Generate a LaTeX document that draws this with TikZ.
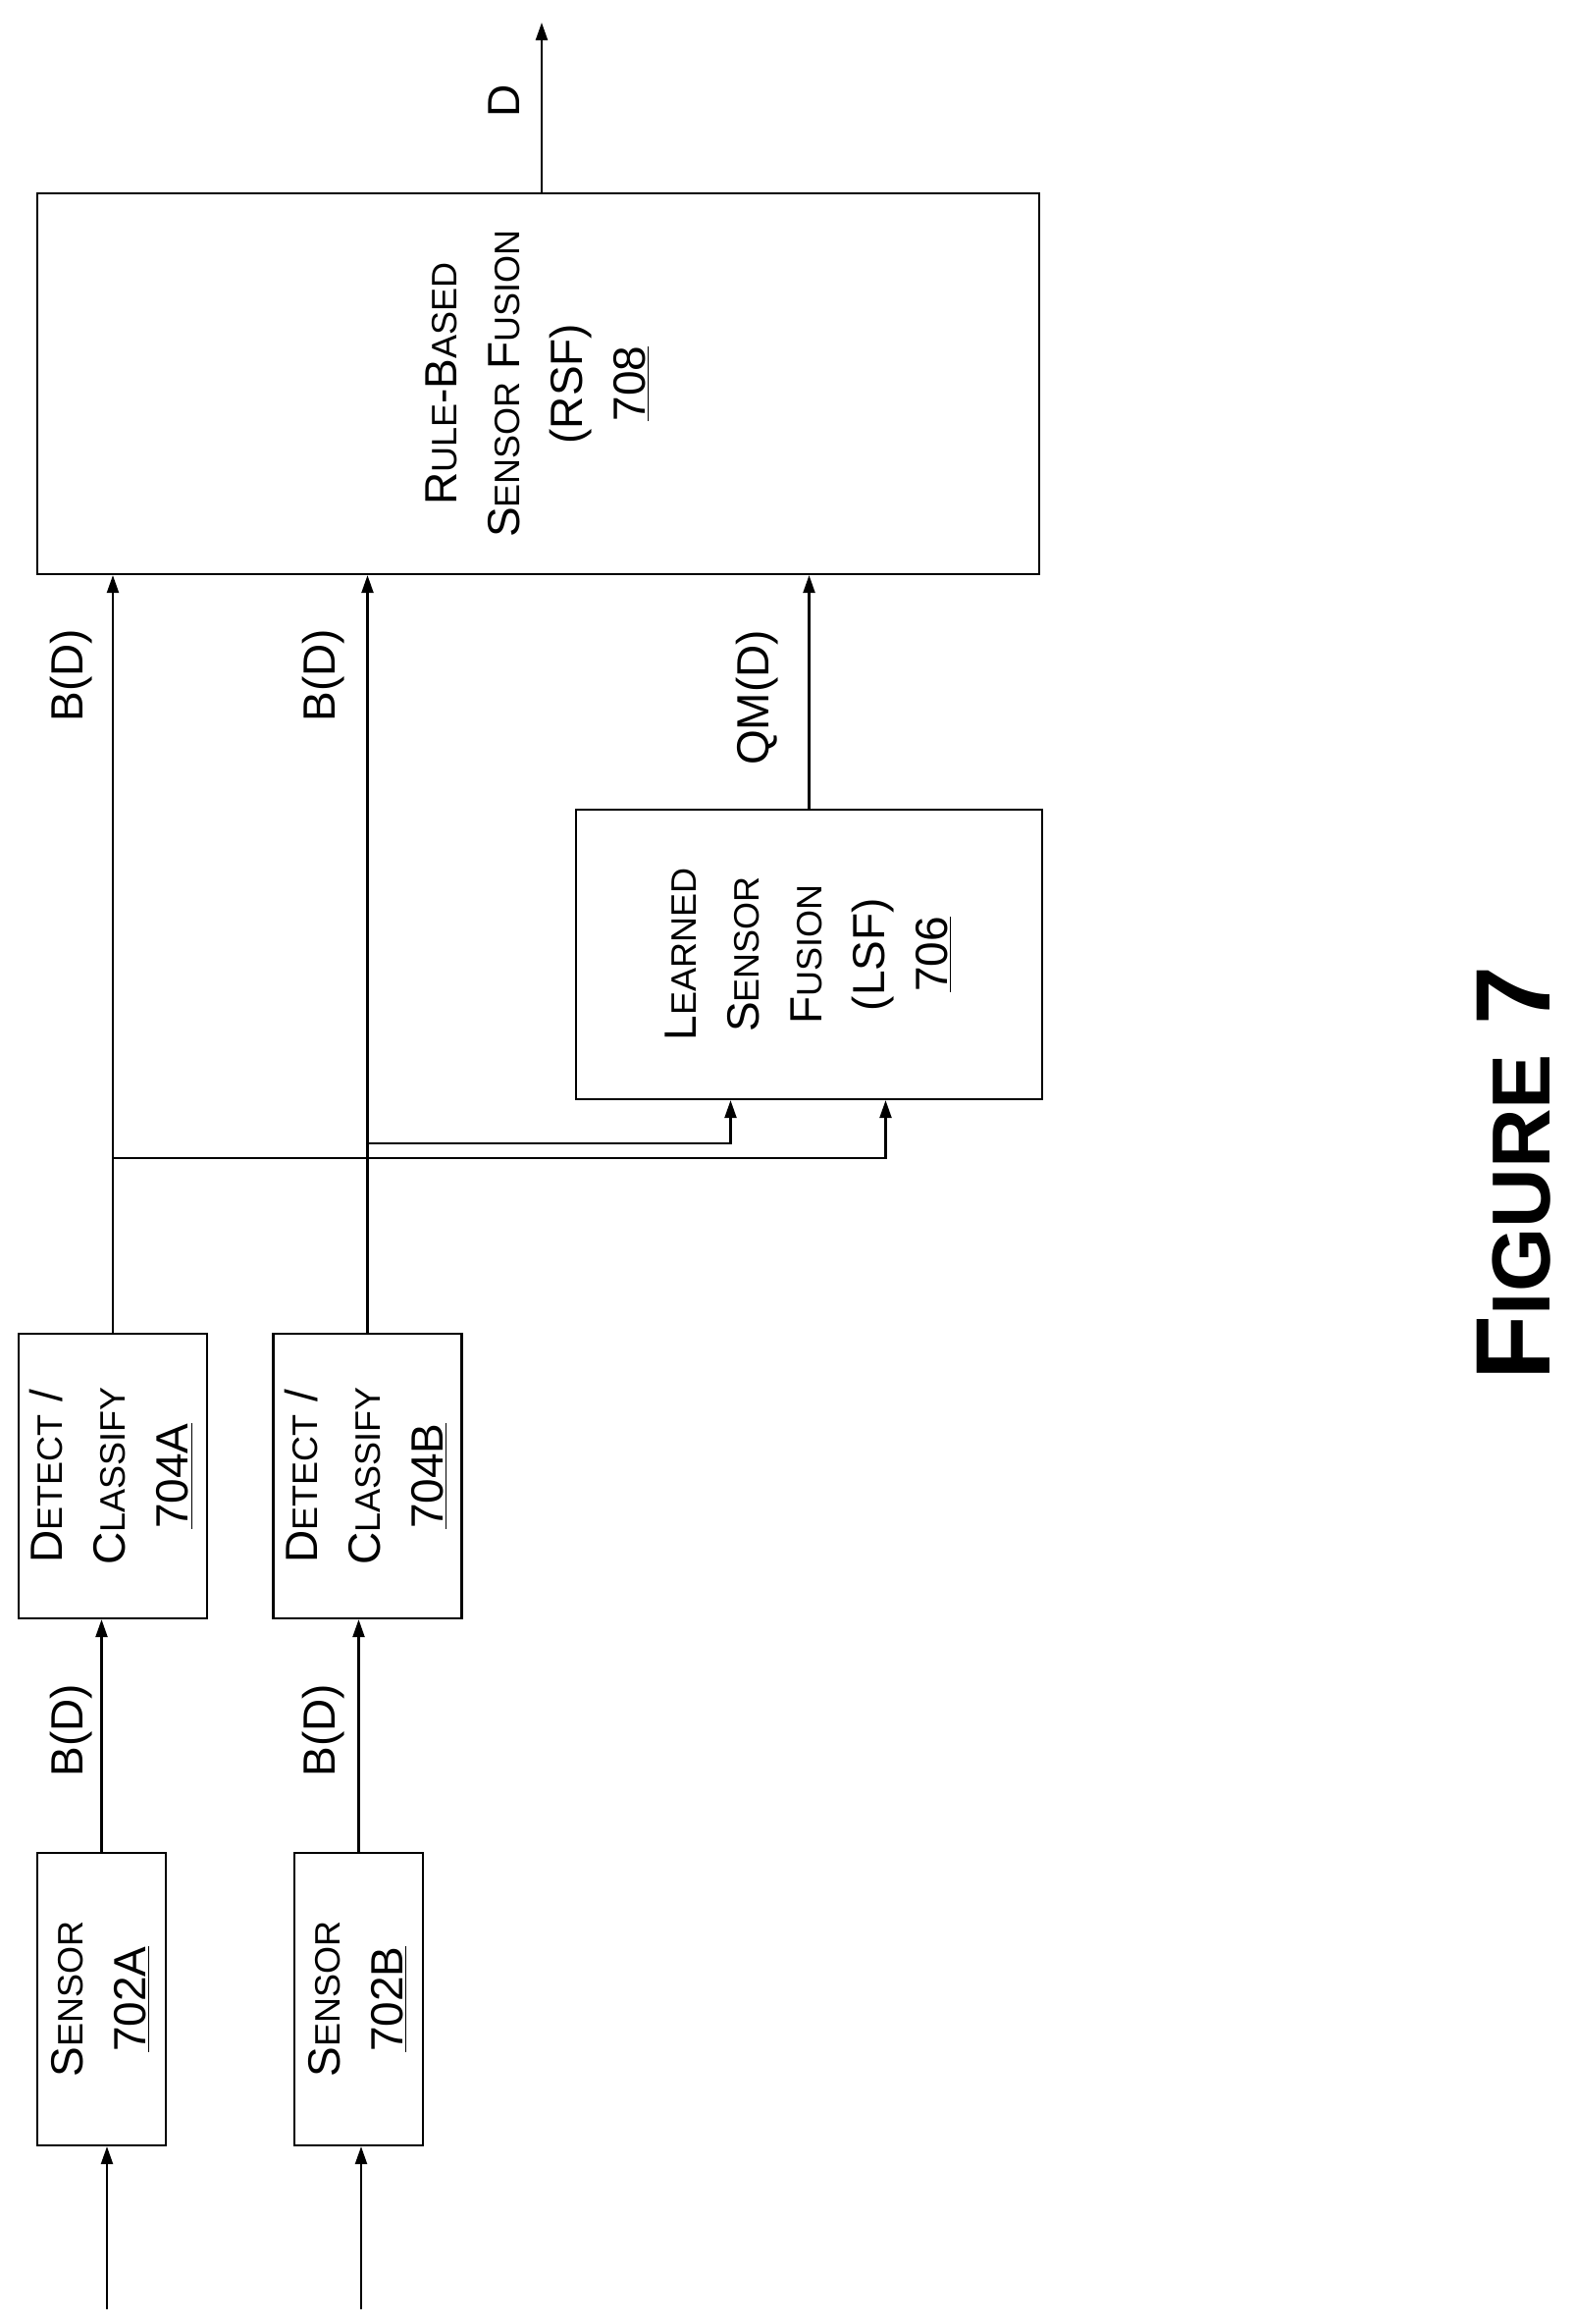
\documentclass[tikz,border=0pt]{standalone}
\usepackage{fontspec}
\setmainfont{Liberation Sans}
\usetikzlibrary{arrows.meta, positioning}
\newcommand{\sm}[1]{{\fontsize{18}{18}\selectfont #1}}
\newcommand{\vtext}[1]{\rotatebox{90}{\begin{tabular}{@{}c@{}}#1\end{tabular}}}

\begin{document}
\begin{tikzpicture}[
    x=0.5pt, y=-0.5pt,
    ->,
    >={Triangle[length=9pt,width=6pt]},
    line width=1.1pt,
    every node/.style={font=\fontsize{23}{32}\selectfont},
    block/.style={draw, line width=1.1pt, inner sep=0pt, align=center},
    lbl/.style={rotate=90}
  ]
  \useasboundingbox (0,0) rectangle (1604,2368);

  % --- blocks ---
  \node[block, minimum width=65.5pt, minimum height=149pt] (sA) at (103.5,2037)
    {\vtext{S\sm{ENSOR}\\\underline{702A}}};
  \node[block, minimum width=65.5pt, minimum height=149pt] (sB) at (365.5,2037)
    {\vtext{S\sm{ENSOR}\\\underline{702B}}};
  \node[block, minimum width=94pt, minimum height=145pt] (dA) at (115,1504)
    {\vtext{D\sm{ETECT} /\\C\sm{LASSIFY}\\\underline{704A}}};
  \node[block, minimum width=94pt, minimum height=145pt] (dB) at (374.5,1504)
    {\vtext{D\sm{ETECT} /\\C\sm{LASSIFY}\\\underline{704B}}};
  \node[block, minimum width=237.5pt, minimum height=147.5pt] (lsf) at (824.5,972.5)
    {\vtext{L\sm{EARNED}\\S\sm{ENSOR}\\F\sm{USION}\\(LSF)\\\underline{706}}};
  \node[block, minimum width=510.5pt, minimum height=194pt] (rsf) at (548.5,391)
    {\vtext{R\sm{ULE}-B\sm{ASED}\\S\sm{ENSOR} F\sm{USION}\\(RSF)\\\underline{708}}};

  % --- free ends and junctions ---
  \coordinate (inA) at (109,2353);
  \coordinate (inB) at (368,2353);
  \coordinate (out) at (552,23);
  \coordinate (jA) at (115,1180);
  \coordinate (jB) at (374.5,1165);
  \coordinate (lA) at ([xshift=39pt]lsf.south);
  \coordinate (lB) at ([xshift=-40pt]lsf.south);

  % --- connectors ---
  \draw (inA) -- (inA |- sA.south);
  \draw (inB) -- (inB |- sB.south);
  \draw (sA.north) -- (sA.north |- dA.south);
  \draw (sB.north) -- (sB.north |- dB.south);
  \draw (dA.north) -- (dA.north |- rsf.south);
  \draw (dB.north) -- (dB.north |- rsf.south);
  \draw (jA) -| (lA);
  \draw (jB) -| (lB);
  \draw (lsf.north) -- (lsf.north |- rsf.south);
  \draw (rsf.north -| out) -- (out);

  % --- labels ---
  \node[lbl] (bA1) at (73,1763) {B(D)};
  \node[lbl] (bB1) at (330,1763) {B(D)};
  \node[lbl] (bA2) at (73,688) {B(D)};
  \node[lbl] (bB2) at (330,688) {B(D)};
  \node[lbl] (qm) at (772,711) {QM(D)};
  \node[lbl] (d) at (514,103) {D};
  \node[lbl, font=\fontsize{54}{60}\selectfont\bfseries] (fig) at (1543,1195)
    {F{\fontsize{42}{42}\selectfont IGURE} 7};
\end{tikzpicture}
\end{document}
